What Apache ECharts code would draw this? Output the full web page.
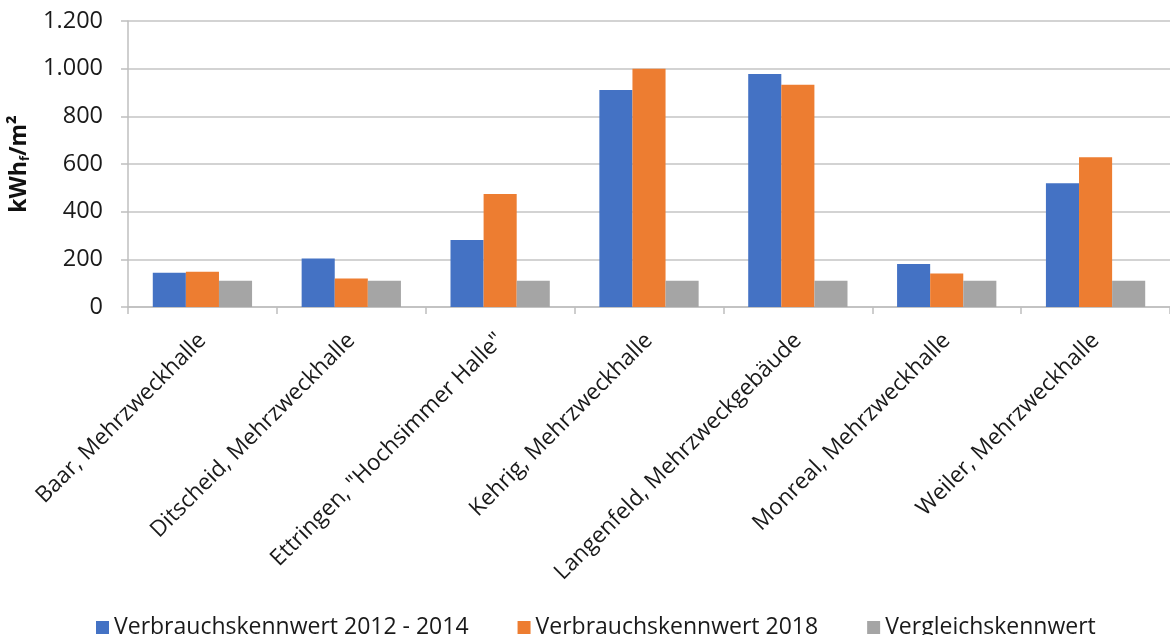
<!DOCTYPE html>
<html>
<head>
<meta charset="utf-8">
<script src="https://cdn.jsdelivr.net/npm/echarts@6/dist/echarts.min.js"></script>
<style>html,body{margin:0;padding:0;background:#fff}#c{width:1170px;height:635px}</style>
</head>
<body>
<div id="c"></div>
<script>
const categories = ["Baar, Mehrzweckhalle", "Ditscheid, Mehrzweckhalle", "Ettringen, \"Hochsimmer Halle\"", "Kehrig, Mehrzweckhalle", "Langenfeld, Mehrzweckgebäude", "Monreal, Mehrzweckhalle", "Weiler, Mehrzweckhalle"];
const seriesNames = ["Verbrauchskennwert 2012 - 2014", "Verbrauchskennwert 2018", "Vergleichskennwert"];
const values2012_2014 = [144, 204, 281, 911, 978, 180, 519];
const values2018 = [148, 120, 474, 1000, 932, 141, 628];
const valuesVergleich = [110, 110, 110, 110, 110, 110, 110];
const yTicks = [0, 200, 400, 600, 800, 1000, 1200];

const chart = echarts.init(document.getElementById('c'));
const fontFam = '"Open Sans", "Noto Sans", sans-serif';
const fmt = v => v >= 1000 ? (Math.floor(v/1000) + '.' + String(v%1000).padStart(3,'0')) : String(v);
chart.setOption({
  animation: false,
  color: ['#4472C4', '#ED7D31', '#A5A5A5'],
  grid: { left: 128, top: 21, width: 1050, height: 286, containLabel: false },
  legend: {
    data: seriesNames,
    top: 611,
    left: 91,
    itemWidth: 13,
    itemHeight: 13,
    itemGap: 49,
    icon: 'rect',
    textStyle: { fontFamily: fontFam, fontSize: 23, color: '#1a1a1a' }
  },
  xAxis: {
    type: 'category',
    data: categories,
    axisLine: { lineStyle: { color: '#bfbfbf', width: 1.5 } },
    axisTick: { show: true, length: 7, lineStyle: { color: '#bfbfbf', width: 1.5 } },
    axisLabel: { rotate: 45, interval: 0, margin: 30, fontFamily: fontFam, fontSize: 22.5, color: '#1a1a1a' }
  },
  yAxis: {
    type: 'value',
    min: yTicks[0], max: yTicks[yTicks.length-1], interval: 200,
    name: '{b|kWh}{s|f}{b|/m²}',
    nameLocation: 'middle',
    nameGap: 90,
    nameRotate: 90,
    nameTextStyle: {
      rich: {
        b: { fontFamily: fontFam, fontSize: 23, fontWeight: 'bold', color: '#111' },
        s: { fontFamily: fontFam, fontSize: 13, fontWeight: 'bold', color: '#111', verticalAlign: 'bottom', padding: [12,0,0,0] }
      }
    },
    axisLine: { show: true, lineStyle: { color: '#bfbfbf', width: 1.5 } },
    axisTick: { show: true, length: 7, lineStyle: { color: '#bfbfbf', width: 1.5 } },
    splitLine: { lineStyle: { color: '#c4c4c4', width: 1.5 } },
    axisLabel: { margin: 25, fontFamily: fontFam, fontSize: 23.5, color: '#1a1a1a', formatter: fmt }
  },
  series: [
    { name: seriesNames[0], type: 'bar', data: values2012_2014, barGap: '0%', barCategoryGap: '33.3%' },
    { name: seriesNames[1], type: 'bar', data: values2018, barGap: '0%', barCategoryGap: '33.3%' },
    { name: seriesNames[2], type: 'bar', data: valuesVergleich, barGap: '0%', barCategoryGap: '33.3%' }
  ]
});
</script>
</body>
</html>
